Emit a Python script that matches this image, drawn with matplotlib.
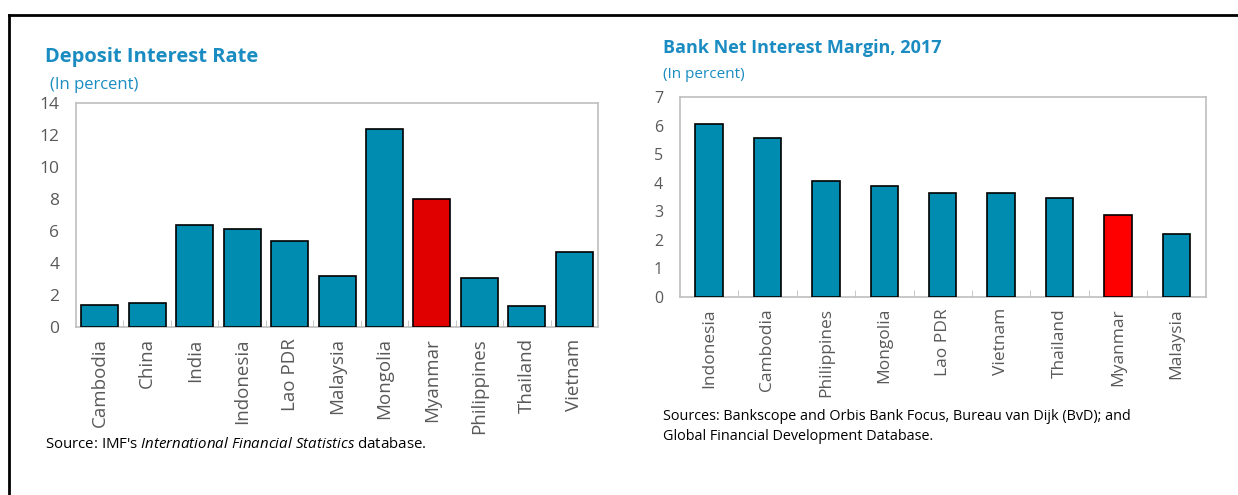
import numpy as np
import matplotlib
matplotlib.use('Agg')
import matplotlib.pyplot as plt
from matplotlib.lines import Line2D

# left panel: deposit interest rate (percent)
dep_countries = ['Cambodia', 'China', 'India', 'Indonesia', 'Lao PDR', 'Malaysia',
                 'Mongolia', 'Myanmar', 'Philippines', 'Thailand', 'Vietnam']
dep_rates = [1.4, 1.5, 6.4, 6.1, 5.4, 3.2, 12.4, 8.0, 3.1, 1.3, 4.7]

# right panel: bank net interest margin 2017 (percent)
nim_countries = ['Indonesia', 'Cambodia', 'Philippines', 'Mongolia', 'Lao PDR',
                 'Vietnam', 'Thailand', 'Myanmar', 'Malaysia']
nim_values = [6.05, 5.55, 4.05, 3.9, 3.63, 3.63, 3.47, 2.88, 2.22]

highlight = 'Myanmar'

plt.rcParams['font.family'] = ['Open Sans', 'DejaVu Sans']
plt.rcParams['mathtext.fontset'] = 'custom'
plt.rcParams['mathtext.rm'] = 'Open Sans'
plt.rcParams['mathtext.it'] = 'Open Sans:italic'

teal = '#008BB0'
title_col = '#1A8CC2'
tick_col = '#595959'
spine_col = '#BFBFBF'


def bar_panel(ax, names, values, red, width, ymax, xfs, yfs):
	ind = np.arange(len(names))
	colors = [red if n == highlight else teal for n in names]
	ax.bar(ind, values, width, color=colors, edgecolor='black', linewidth=1.2, zorder=3)
	ax.set_xlim(-0.5, len(names) - 0.5)
	ax.set_ylim(0, ymax)
	ax.set_xticks(ind)
	ax.set_xticklabels(names, rotation=90, fontsize=xfs, color=tick_col)
	ax.set_xticks(ind[:-1] + 0.5, minor=True)
	ax.tick_params(axis='x', which='major', length=0, pad=8)
	ax.tick_params(axis='x', which='minor', direction='in', length=5, color=spine_col)
	ax.tick_params(axis='y', length=0, labelsize=yfs, labelcolor=tick_col, pad=12)
	for s in ax.spines.values():
		s.set_color(spine_col)
		s.set_linewidth(1.2)


fig = plt.figure(figsize=(12.38, 4.95), dpi=100)

ax1 = fig.add_axes([0.0614, 0.339, 0.4217, 0.453])
bar_panel(ax1, dep_countries, dep_rates, '#E00000', 0.78, 14, 13.5, 12.5)
ax1.set_yticks(np.arange(0, 15, 2))

ax2 = fig.add_axes([0.549, 0.400, 0.425, 0.404])
bar_panel(ax2, nim_countries, nim_values, '#FF0000', 0.47, 7, 12.5, 11.5)
ax2.set_yticks(np.arange(0, 8, 1))

fig.text(45 / 1238, 1 - 57 / 495, 'Deposit Interest Rate', fontsize=14.5, fontweight='bold',
	color=title_col, va='center', ha='left')
fig.text(50 / 1238, 1 - 85 / 495, '(In percent)', fontsize=12, color=title_col, va='center', ha='left')
fig.text(45 / 1238, 1 - 444 / 495, "Source: IMF's $\\it{International\\ Financial\\ Statistics}$ database.",
	fontsize=10.8, color='black', va='center', ha='left')

fig.text(663 / 1238, 1 - 48 / 495, 'Bank Net Interest Margin, 2017', fontsize=13, fontweight='bold',
	color=title_col, va='center', ha='left')
fig.text(663 / 1238, 1 - 75 / 495, '(In percent)', fontsize=11, color=title_col, va='center', ha='left')
fig.text(663 / 1238, 1 - 417 / 495, 'Sources: Bankscope and Orbis Bank Focus, Bureau van Dijk (BvD); and',
	fontsize=10.4, color='black', va='center', ha='left')
fig.text(663 / 1238, 1 - 437 / 495, 'Global Financial Development Database.',
	fontsize=10.4, color='black', va='center', ha='left')

# frame lines around the figure box
top_y = 1 - 15 / 495
left_x = 9 / 1238
fig.add_artist(Line2D([left_x, 1], [top_y, top_y], color='black', linewidth=2, transform=fig.transFigure))
fig.add_artist(Line2D([left_x, left_x], [0, top_y], color='black', linewidth=2, transform=fig.transFigure))

plt.savefig('out.png', dpi=100)
